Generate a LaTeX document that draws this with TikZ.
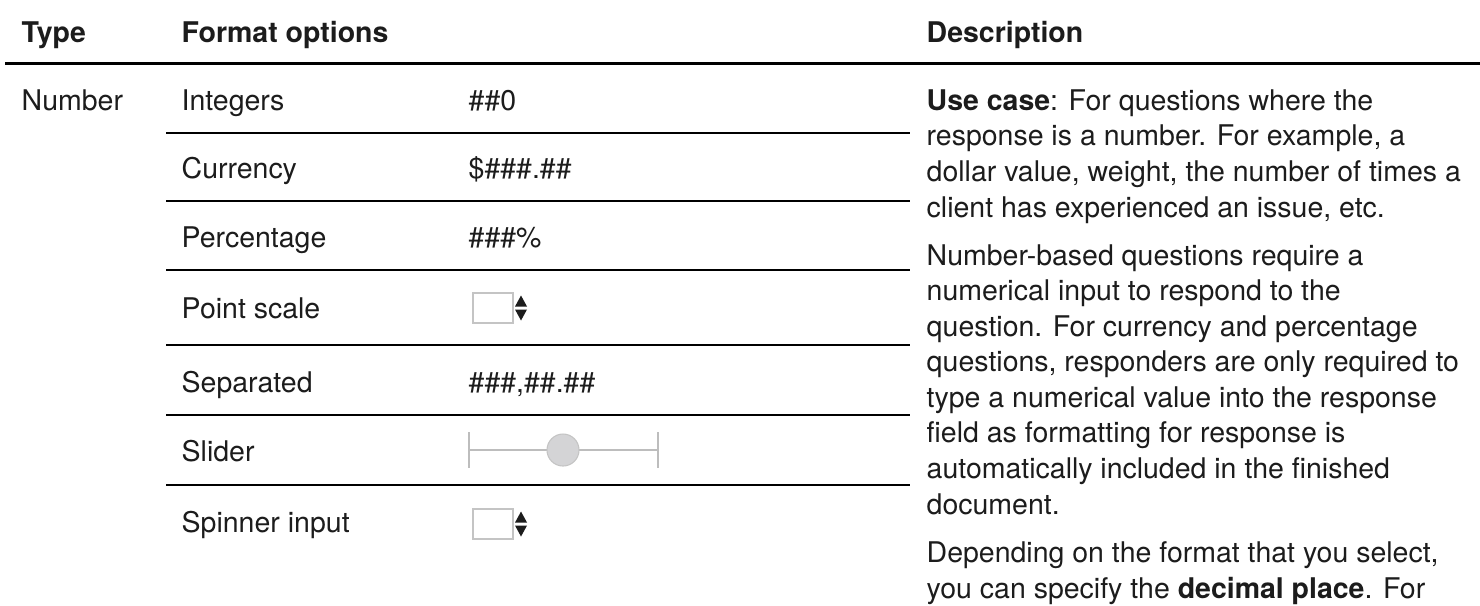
\documentclass[tikz,border=0pt]{standalone}
\usepackage{fontspec}
\setmainfont{TeX Gyre Heros}
\definecolor{Ink}{HTML}{1C1C1C}
\definecolor{Rule}{HTML}{000000}
\definecolor{Widget}{HTML}{C4C4C4}
\definecolor{Knob}{HTML}{D4D4D6}
\definecolor{Track}{HTML}{BDBDBD}

\begin{document}
\begin{tikzpicture}[x=0.01cm,y=-0.01cm,
  every node/.style={text=Ink,inner sep=0pt},
  cell/.style={anchor=base west,font=\fontsize{8.1}{10.1}\selectfont},
  head/.style={cell,font=\fontsize{8.1}{10.1}\selectfont\bfseries},
  para/.style={cell,align=left},
  rowline/.style={draw=Rule,line width=0.6pt}]
\useasboundingbox (0,0) rectangle (1480,605);
\fill[white] (0,0) rectangle (1480,605);
% header row
\node[head] (typeh) at (21,42.5){Type};
\node[head] (fmth) at (181,42.5){Format options};
\node[head] (desch) at (926,42.5){Description};
\draw[Rule,line width=0.85pt] (5,63)--(1480,63);
% format options
\node[cell] (number) at (21,110.5){Number};
\node[cell] (integers) at (181,110.5){Integers};\node[cell] (intval) at (468,110.5){\#\#0};
\node[cell] (currency) at (181,178){Currency};\node[cell] (curval) at (468,178){\$\#\#\#.\#\#};
\node[cell] (percent) at (181,247){Percentage};\node[cell] (pctval) at (468,247){\#\#\#\%};
\node[cell] (points) at (181,318){Point scale};
\node[cell] (separated) at (181,392){Separated};\node[cell] (sepval) at (468,392){\#\#\#,\#\#.\#\#};
\node[cell] (slider) at (181,461){Slider};
\node[cell] (spinner) at (181,532){Spinner input};
\foreach \y in {133,201,270,345,415,485}{\draw[rowline] (166,\y)--(910,\y);}
% spinner boxes
\foreach \y in {308,524}{
  \draw[Widget,line width=0.45pt] (473,\y-15) rectangle (513,\y+15);
  \fill[Ink] (515,\y-1.5)--(527,\y-1.5)--(521,\y-12.5)--cycle;
  \fill[Ink] (515,\y+1.5)--(527,\y+1.5)--(521,\y+12.5)--cycle;
}
% slider
\draw[Track,line width=0.55pt] (469,450)--(658,450);
\draw[Track,line width=0.55pt] (469,432)--(469,468) (658,432)--(658,468);
\filldraw[fill=Knob,draw=Widget,line width=0.3pt] (563,450) circle[radius=0.16cm];
% description (base = last line)
\node[para] (usecase) at (926,217){\textbf{Use case}: For questions where the\\response is a number. For example, a\\dollar value, weight, the number of times a\\client has experienced an issue, etc.};
\node[para] (numbased) at (926,514){Number-based questions require a\\numerical input to respond to the\\question. For currency and percentage\\questions, responders are only required to\\type a numerical value into the response\\field as formatting for response is\\automatically included in the finished\\document.};
\node[para] (depending) at (926,598){Depending on the format that you select,\\you can specify the \textbf{decimal place}. For};
\end{tikzpicture}
\end{document}
